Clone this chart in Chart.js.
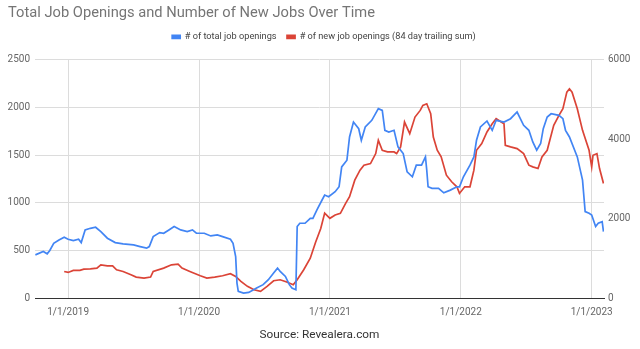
<!DOCTYPE html>
<html>
<head>
<meta charset="utf-8">
<script src="https://cdn.jsdelivr.net/npm/chart.js@4/dist/chart.umd.min.js"></script>
<style>
  html, body { margin: 0; padding: 0; background: #fff; }
  #wrap { width: 640px; height: 349px; position: relative; }
</style>
</head>
<body>
<div id="wrap"><canvas id="myChart"></canvas></div>
<script>
// x values are decimal years (2019.5 = mid 2019)
var blueYears = [2018.75, 2018.81, 2018.84, 2018.86, 2018.89, 2018.93, 2018.97, 2019.00, 2019.04, 2019.08,
  2019.10, 2019.13, 2019.17, 2019.21, 2019.25, 2019.30, 2019.36, 2019.42, 2019.50, 2019.55,
  2019.60, 2019.62, 2019.65, 2019.70, 2019.73, 2019.77, 2019.81, 2019.86, 2019.91, 2019.95,
  2019.98, 2020.04, 2020.09, 2020.14, 2020.18, 2020.24, 2020.26, 2020.28, 2020.29, 2020.30,
  2020.34, 2020.38, 2020.44, 2020.49, 2020.53, 2020.57, 2020.60, 2020.62, 2020.66, 2020.69,
  2020.71, 2020.74, 2020.75, 2020.77, 2020.81, 2020.85, 2020.87, 2020.90, 2020.94, 2020.96,
  2020.99, 2021.04, 2021.07, 2021.09, 2021.13, 2021.15, 2021.18, 2021.22, 2021.24, 2021.27,
  2021.32, 2021.37, 2021.40, 2021.42, 2021.45, 2021.49, 2021.52, 2021.56, 2021.59, 2021.63,
  2021.66, 2021.70, 2021.73, 2021.74, 2021.75, 2021.78, 2021.83, 2021.87, 2021.92, 2021.97,
  2021.99, 2022.02, 2022.07, 2022.10, 2022.12, 2022.15, 2022.20, 2022.24, 2022.27, 2022.33,
  2022.38, 2022.43, 2022.48, 2022.52, 2022.55, 2022.58, 2022.61, 2022.63, 2022.66, 2022.69,
  2022.75, 2022.78, 2022.80, 2022.83, 2022.89, 2022.93, 2022.95, 2022.98, 2023.00, 2023.03,
  2023.05, 2023.08, 2023.09];
var blueValues = [453, 488, 464, 499, 575, 610, 638, 617, 603, 617,
  582, 715, 732, 743, 697, 628, 582, 568, 558, 540,
  523, 540, 645, 687, 680, 715, 750, 715, 697, 715,
  680, 680, 652, 663, 645, 617, 575, 436, 157, 70,
  52, 59, 105, 140, 192, 262, 314, 279, 227, 140,
  105, 87, 750, 785, 785, 837, 837, 924, 1029, 1081,
  1064, 1116, 1168, 1377, 1447, 1691, 1848, 1778, 1656, 1796,
  1866, 1988, 1970, 1761, 1743, 1761, 1587, 1517, 1325, 1273,
  1395, 1395, 1482, 1342, 1168, 1151, 1151, 1105, 1133, 1168,
  1168, 1273, 1395, 1482, 1656, 1796, 1859, 1761, 1866, 1848,
  1883, 1953, 1813, 1761, 1639, 1552, 1622, 1778, 1900, 1935,
  1918, 1883, 1761, 1691, 1482, 1238, 907, 889, 872, 750,
  785, 802, 697];

var redYears = [2018.97, 2019.00, 2019.04, 2019.09, 2019.12, 2019.17, 2019.22, 2019.25, 2019.30, 2019.34,
  2019.37, 2019.42, 2019.48, 2019.52, 2019.58, 2019.63, 2019.65, 2019.73, 2019.79, 2019.84,
  2019.87, 2019.93, 2020.01, 2020.06, 2020.12, 2020.18, 2020.24, 2020.28, 2020.32, 2020.37,
  2020.42, 2020.47, 2020.52, 2020.57, 2020.62, 2020.67, 2020.72, 2020.75, 2020.80, 2020.85,
  2020.89, 2020.93, 2020.96, 2021.00, 2021.04, 2021.08, 2021.12, 2021.15, 2021.19, 2021.23,
  2021.26, 2021.31, 2021.35, 2021.37, 2021.40, 2021.44, 2021.49, 2021.51, 2021.54, 2021.57,
  2021.61, 2021.65, 2021.69, 2021.71, 2021.74, 2021.77, 2021.79, 2021.82, 2021.85, 2021.89,
  2021.93, 2021.97, 2021.99, 2022.03, 2022.07, 2022.10, 2022.12, 2022.16, 2022.20, 2022.24,
  2022.27, 2022.33, 2022.34, 2022.38, 2022.43, 2022.48, 2022.52, 2022.55, 2022.59, 2022.62,
  2022.66, 2022.68, 2022.71, 2022.75, 2022.78, 2022.81, 2022.83, 2022.85, 2022.89, 2022.93,
  2022.98, 2023.00, 2023.01, 2023.04, 2023.06, 2023.09];
var redValues = [669, 644, 695, 695, 728, 736, 753, 837, 812, 812,
  711, 669, 586, 527, 502, 527, 669, 753, 837, 854,
  753, 669, 561, 502, 527, 561, 611, 544, 418, 293,
  209, 167, 293, 435, 460, 402, 335, 460, 711, 1004,
  1400, 1750, 2140, 2008, 2092, 2134, 2385, 2552, 2971, 3222,
  3347, 3389, 3640, 3975, 3724, 3682, 3682, 3640, 3808, 4435,
  4142, 4561, 4728, 4853, 4895, 4644, 4058, 3724, 3557, 3096,
  2929, 2803, 2636, 2803, 2803, 3222, 3724, 3891, 4184, 4393,
  4519, 4393, 3849, 3808, 3766, 3640, 3347, 3305, 3263, 3557,
  3724, 3975, 4351, 4602, 4770, 5188, 5272, 5188, 4770, 4226,
  3724, 3305, 3598, 3640, 3263, 2887];

var yearTicks = [2019, 2020, 2021, 2022, 2023];
var seriesNames = ['# of total job openings', '# of new job openings (84 day trailing sum)'];

function points(xs, ys) {
  return xs.map(function(x, i) { return {x: x, y: ys[i]}; });
}

function plain(v) {
  return String(v);
}

Chart.defaults.font.family = 'Roboto';

var ctx = document.getElementById('myChart').getContext('2d');
var chart = new Chart(ctx, {
  type: 'line',
  data: {
    datasets: [{
      label: seriesNames[0],
      data: points(blueYears, blueValues),
      borderColor: '#4285f4',
      backgroundColor: '#4285f4',
      borderWidth: 1.7,
      pointRadius: 0,
      yAxisID: 'y'
    }, {
      label: seriesNames[1],
      data: points(redYears, redValues),
      borderColor: '#db4437',
      backgroundColor: '#db4437',
      borderWidth: 1.7,
      pointRadius: 0,
      yAxisID: 'y1'
    }]
  },
  options: {
    responsive: true,
    maintainAspectRatio: false,
    animation: false,
    layout: {
      padding: { left: 8, right: 0, top: 0, bottom: 0 }
    },
    plugins: {
      title: {
        display: true,
        text: 'Total Job Openings and Number of New Jobs Over Time',
        align: 'start',
        color: '#757575',
        font: { size: 14.7, weight: 'normal' },
        padding: { top: 4.2, bottom: 0 }
      },
      legend: {
        position: 'top',
        align: 'center',
        labels: {
          boxWidth: 8,
          boxHeight: 3,
          color: '#444',
          font: { size: 9.2 },
          padding: 10.5
        }
      },
      tooltip: { enabled: false }
    },
    scales: {
      x: {
        type: 'linear',
        min: 2018.747,
        max: 2023.094,
        afterBuildTicks: function(scale) {
          scale.ticks = yearTicks.map(function(v) { return {value: v}; });
        },
        afterFit: function(scale) { scale.height = 51; },
        ticks: {
          callback: function(v) { return '1/1/' + v; },
          color: '#666',
          font: { size: 10 },
          padding: 8,
          maxRotation: 0,
          autoSkip: false
        },
        grid: { color: '#dcdcdc', drawTicks: false },
        border: { display: true, color: '#333', width: 1 },
        title: {
          display: true,
          text: 'Source: Revealera.com',
          color: '#333',
          font: { size: 11.8 },
          padding: { top: 4, bottom: 7 }
        }
      },
      y: {
        position: 'left',
        min: 0,
        max: 2500,
        afterFit: function(scale) { scale.width = 27; },
        ticks: { stepSize: 500, color: '#666', font: { size: 10 }, padding: 5, callback: plain },
        grid: { color: '#dcdcdc', drawTicks: false },
        border: { display: false }
      },
      y1: {
        position: 'right',
        min: 0,
        max: 6000,
        afterFit: function(scale) { scale.width = 36; },
        ticks: { stepSize: 2000, color: '#666', font: { size: 10 }, padding: 4, callback: plain },
        grid: { display: false, drawTicks: false },
        border: { display: false }
      }
    }
  }
});

// extra gap under the legend, like the original
var legendFit = chart.legend.fit;
chart.legend.fit = function() {
  legendFit.call(this);
  this.height += 8.4;
};
chart.update();
</script>
</body>
</html>
